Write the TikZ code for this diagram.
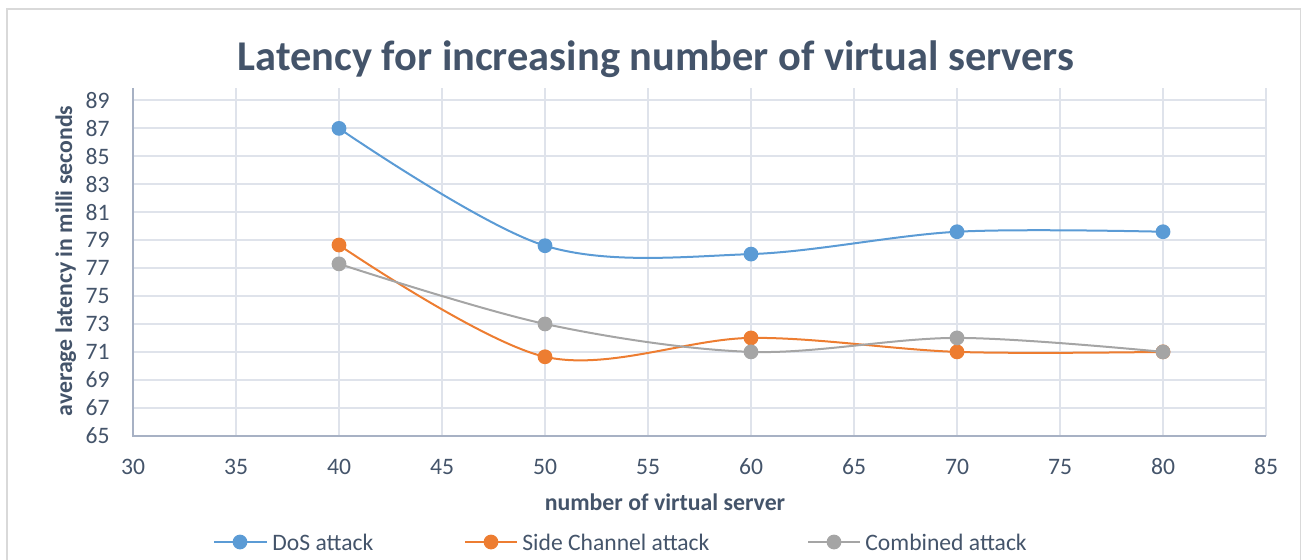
\documentclass[tikz,border=0pt]{standalone}
\usepackage{fontspec}
\setmainfont{Carlito}
\usetikzlibrary{positioning}

\begin{document}
\begin{tikzpicture}
    [
      x=0.5pt, y=-0.5pt,
      % Styles
      grid line/.style={draw=gridcolor, line width=1pt},
      axis line/.style={draw=axiscolor, line width=1pt},
      tick label/.style={text=textcolor, inner sep=0pt, font=\fontsize{11.8}{13}\selectfont},
      axis title/.style={text=textcolor, inner sep=0pt, font=\bfseries\fontsize{11.9}{13}\selectfont},
      series/.style={line width=1pt, line cap=round},
      dot/.style={circle, inner sep=0pt, minimum size=7.4pt}
    ]

    % Colors
    \definecolor{textcolor}{HTML}{44546A}
    \definecolor{gridcolor}{HTML}{DFE3EB}
    \definecolor{axiscolor}{HTML}{A7B1C4}
    \definecolor{framecolor}{HTML}{D9D9D9}
    \definecolor{doscolor}{HTML}{5B9BD5}
    \definecolor{sidecolor}{HTML}{ED7D31}
    \definecolor{combcolor}{HTML}{A5A5A5}

    \useasboundingbox (0,0) rectangle (1302,559);
    \draw [framecolor, line width=0.8pt] (7,570) |- (1300.5,9) -- (1300.5,570);

    \node [font=\bfseries\fontsize{21.2}{24}\selectfont, text=textcolor, anchor=base]
      (title) at (656,70) {Latency for increasing number of virtual servers};

    % plot area, in data units
    \begin{scope}[shift={(133,435.7)}]
    \begin{scope}[x=10.3pt, y=6.985pt, shift={(-30,-65)}]
      \foreach \y in {67,69,...,89}
        \draw [grid line] (30,\y) -- (85,\y);
      \foreach \x in {35,40,...,85}
        \draw [grid line] (\x,65) -- (\x,89.9);
      \draw [axis line] (30,89.9) -- (30,65) -- (85,65);

      % ticks
      \foreach \x in {30,35,...,85}
        \node [tick label] at ([yshift=-15.5pt]\x,65) {\x};
      \foreach \y in {65,67,...,89}
        \node [tick label, anchor=east] at ([xshift=-11.5pt]30,\y) {\y};

      % data points
      \foreach \x/\a/\b/\c in {40/87/78.65/77.3, 50/78.6/70.65/73, 60/78/72/71, 70/79.6/71/72, 80/79.6/71/71}
      {
        \coordinate (dos\x) at (\x,\a);
        \coordinate (side\x) at (\x,\b);
        \coordinate (comb\x) at (\x,\c);
      }

      \draw [series, doscolor] plot [smooth, tension=0.55] coordinates {(dos40) (dos50) (dos60) (dos70) (dos80)};
      \foreach \x in {40,50,...,80}
        \node [dot, fill=doscolor] (dosdot\x) at (dos\x) {};
      \draw [series, sidecolor] plot [smooth, tension=0.55] coordinates {(side40) (side50) (side60) (side70) (side80)};
      \foreach \x in {40,50,...,80}
        \node [dot, fill=sidecolor] (sidedot\x) at (side\x) {};
      \draw [series, combcolor] plot [smooth, tension=0.55] coordinates {(comb40) (comb50) (comb60) (comb70) (comb80)};
      \foreach \x in {40,50,...,80}
        \node [dot, fill=combcolor] (combdot\x) at (comb\x) {};
    \end{scope}
    \end{scope}

    % axis titles
    \node [axis title, anchor=base] (xtitle) at (665,510) {number of virtual server};
    \node [axis title, anchor=base, rotate=90] (ytitle) at (72,261) {average latency in milli seconds};

    % legend
    \foreach \name/\col/\xa/\xm/\xb/\label in
      {dos/doscolor/214/240/267/DoS attack,
       side/sidecolor/465/491/517/Side Channel attack,
       comb/combcolor/808/834/860/Combined attack}
    {
      \coordinate (\name start) at (\xa,542);
      \coordinate (\name end) at (\xb,542);
      \draw [series, \col, line cap=butt] (\name start) -- (\name end);
      \node [dot, fill=\col] (\name key) at (\xm,542) {};
      \node [tick label, anchor=west] (\name text) at ([xshift=2.5pt]\name end) {\label};
    }
  \end{tikzpicture}
\end{document}
